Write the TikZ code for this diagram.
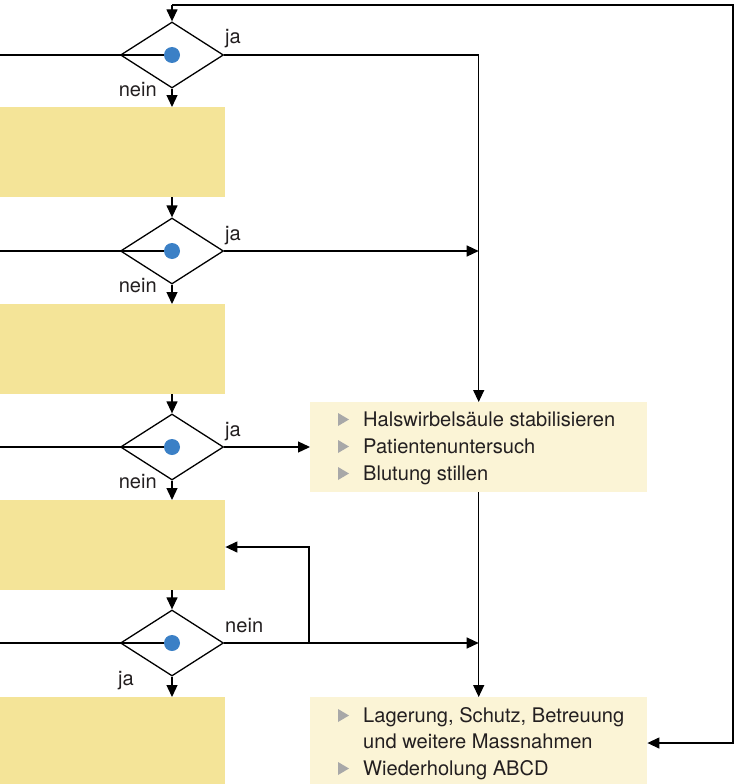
\documentclass[tikz,border=0pt]{standalone}
\usepackage{fontspec}
\setmainfont{TeX Gyre Heros}
\usetikzlibrary{shapes.geometric,arrows.meta}
\definecolor{ybox}{HTML}{F4E498}
\definecolor{lbox}{HTML}{FBF4D6}
\definecolor{dotblue}{HTML}{3B80C6}
\definecolor{bulgray}{HTML}{A8A8A8}
\definecolor{txt}{HTML}{231F20}
\begin{document}
\begin{tikzpicture}[x=1pt,y=-1pt,
  line/.style={line width=1.3pt, draw=black},
  arr/.style={line, -{Triangle[length=12pt,width=11pt]}},
  dec/.style={diamond, draw, line width=1.3pt, minimum width=103pt, minimum height=66pt, inner sep=0pt},
  dotn/.style={circle, fill=dotblue, minimum size=16pt, inner sep=0pt},
  ylw/.style={fill=ybox, minimum width=225pt, minimum height=90pt, inner sep=0pt, anchor=north west},
  lbx/.style={fill=lbox, minimum width=337pt, inner sep=0pt, anchor=north west},
  lbl/.style={font=\fontsize{20.1}{24}\selectfont, text=txt, inner sep=0pt},
  bul/.style={fill=bulgray},
]
\useasboundingbox (0,0) rectangle (739,784);

% left yellow boxes
\node[ylw] (y1) at (0,107) {};
\node[ylw] (y2) at (0,304) {};
\node[ylw] (y3) at (0,500) {};
\node[ylw, minimum height=87pt] (y4) at (0,697) {};

% right boxes
\node[lbx, minimum height=90pt] (A) at (310,402) {};
\node[lbx, minimum height=87pt] (B) at (310,697) {};

% diamonds
\foreach \i/\y in {1/55,2/251,3/447,4/643}{
  \coordinate (l\i) at (0,\y);
  \node[dec] (d\i) at (172,\y) {};
  \draw[line] (l\i) -- (d\i.center);
  \node[dotn] (p\i) at (d\i.center) {};
}

% vertical flow
\draw[arr] (d1.south) -- (d1.south |- y1.north);
\draw[arr] (d1.south |- y1.south) -- (d2.north);
\draw[arr] (d2.south) -- (d2.south |- y2.north);
\draw[arr] (d2.south |- y2.south) -- (d3.north);
\draw[arr] (d3.south) -- (d3.south |- y3.north);
\draw[arr] (d3.south |- y3.south) -- (d4.north);
\draw[arr] (d4.south) -- (d4.south |- y4.north);

% feedback loop
\coordinate (c1) at (172,5);
\coordinate (c2) at (733,5);
\coordinate (c3) at (733,743);
\draw[arr] (c1) -- (d1.north);
\draw[arr] (c1) -- (c2) -- (c3) -- (B.east |- c3);

% right connectors
\draw[arr] (d1.east) -- (d1.east -| A.north) -- (A.north);
\draw[arr] (d2.east) -- (d2.east -| A.north);
\draw[arr] (d3.east) -- (A.west |- d3.east);
\draw[arr] (A.south) -- (B.north);
\draw[arr] (d4.east) -- (d4.east -| B.north);
\coordinate (br) at (309,643);
\coordinate (br2) at (309,547);
\draw[arr] (br) -- (br2) -- (br2 -| y3.east);

% labels
\node[lbl, anchor=base west] (ja1) at (225,44) {ja};
\node[lbl, anchor=base east] (ne1) at (157,96) {nein};
\node[lbl, anchor=base west] (ja2) at (225,240) {ja};
\node[lbl, anchor=base east] (ne2) at (157,292) {nein};
\node[lbl, anchor=base west] (ja3) at (225,436) {ja};
\node[lbl, anchor=base east] (ne3) at (157,488) {nein};
\node[lbl, anchor=base west] (ne4) at (225,632) {nein};
\node[lbl, anchor=base east] (ja4) at (134,685) {ja};

% box A text
\node[lbl, anchor=base west] (ta1) at (363,426) {Halswirbelsäule stabilisieren};
\node[lbl, anchor=base west] (ta2) at (363,453) {Patientenuntersuch};
\node[lbl, anchor=base west] (ta3) at (363,480) {Blutung stillen};
\foreach \b in {426,453,480}{
  \fill[bul] (338,\b-13) -- (349,\b-6.5) -- (338,\b) -- cycle;
}
% box B text
\node[lbl, anchor=base west] (tb1) at (363,722) {Lagerung, Schutz, Betreuung};
\node[lbl, anchor=base west] (tb2) at (363,748.5) {und weitere Massnahmen};
\node[lbl, anchor=base west] (tb3) at (363,775) {Wiederholung ABCD};
\foreach \b in {722,775}{
  \fill[bul] (338,\b-13) -- (349,\b-6.5) -- (338,\b) -- cycle;
}
\end{tikzpicture}
\end{document}
